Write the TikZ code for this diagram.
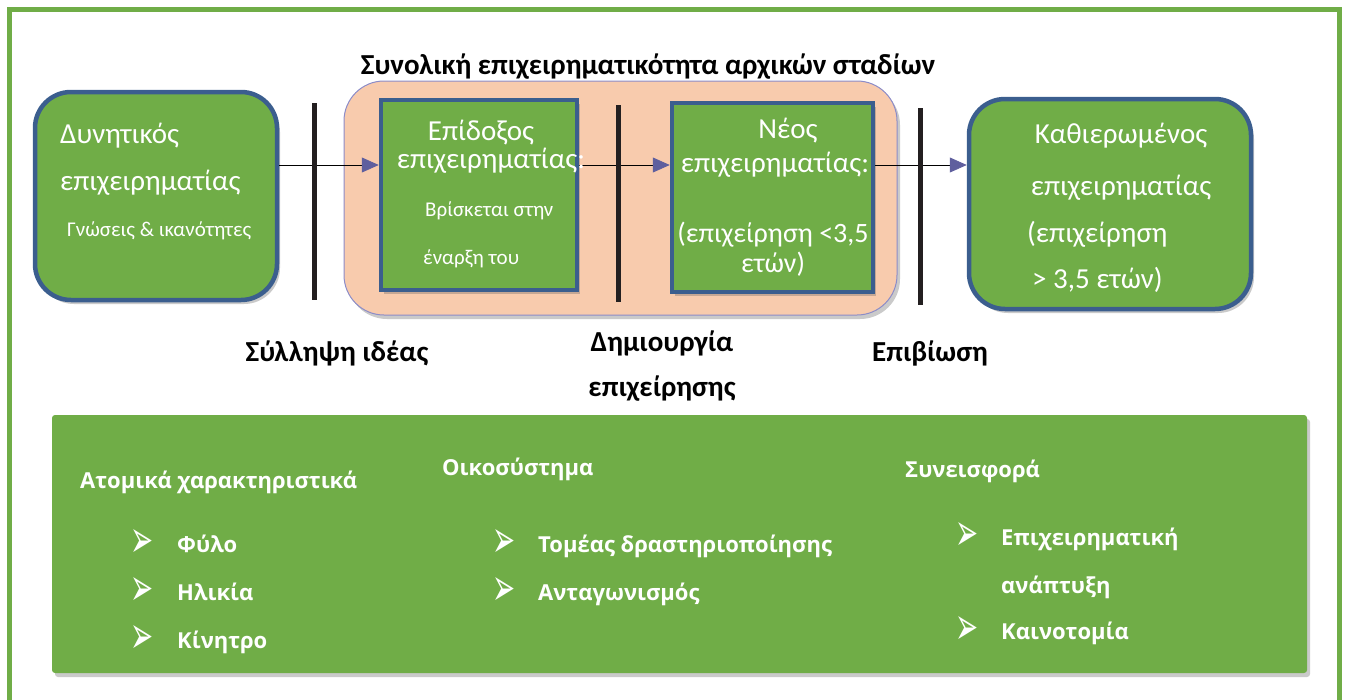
\documentclass[tikz,border=0pt]{standalone}
\usepackage{fontspec}
\setmainfont{Carlito}
\newfontfamily\osans{Open Sans}
\newfontfamily\djv{DejaVu Sans}
\usetikzlibrary{arrows.meta,shadows,calc}
\definecolor{mygreen}{HTML}{70AD47}
\definecolor{myblue}{HTML}{3B5E8E}
\definecolor{peach}{HTML}{F8CBAD}
\definecolor{peachline}{HTML}{8C8CC8}
\definecolor{tipc}{HTML}{5F5F9E}
\definecolor{barc}{HTML}{231F20}
\tikzset{
  shad/.style={drop shadow={shadow xshift=3pt,shadow yshift=-4pt,opacity=0.35,fill=black!60}},
  gbox/.style={fill=mygreen,draw=myblue,line width=4.5pt,inner sep=0pt,shad},
  barline/.style={draw=barc,line width=5pt},
  arr/.style={draw=black,line width=0.8pt,-{Triangle[length=17pt,width=15pt,color=tipc]}},
  wt/.style={text=white,inner sep=0pt,font=\fontsize{29}{33}\selectfont},
  ws/.style={text=white,inner sep=0pt,font=\fontsize{21}{25}\selectfont},
  lab/.style={inner sep=0pt,font=\bfseries\fontsize{29}{33}\selectfont},
  bt/.style={text=white,inner sep=0pt,font=\osans\bfseries\fontsize{22}{26}\selectfont},
  bul/.style={text=white,inner sep=0pt,text height=16pt,text depth=0pt,font=\djv\fontsize{30}{32}\selectfont},
}
\begin{document}
\begin{tikzpicture}[x=1pt,y=-1pt]
\useasboundingbox (0,0) rectangle (1347,699);
% outer frame
\draw[mygreen,line width=5pt] (9.5,9.5) rectangle (1339.5,720);
% peach container
\node[fill=peach,draw=peachline,line width=1pt,rounded corners=40pt,shad,minimum width=553pt,minimum height=234pt,inner sep=0pt] (cont) at (620.5,198) {};
\node[lab,anchor=base] (title) at (648,74) {Συνολική επιχειρηματικότητα αρχικών σταδίων};
% boxes
\node[gbox,rounded corners=36pt,minimum width=242pt,minimum height=208pt] (b1) at (156,196) {};
\node[gbox,minimum width=196pt,minimum height=190pt] (b2) at (479,195) {};
\node[gbox,minimum width=201pt,minimum height=189pt] (b3) at (772.5,197.5) {};
\node[gbox,rounded corners=36pt,minimum width=282pt,minimum height=210pt] (b4) at (1110,204) {};
% arrows
\coordinate (ay) at (0,165);
\draw[arr] (b1.east |- ay) -- (b2.west |- ay);
\draw[arr] (b2.east |- ay) -- (b3.west |- ay);
\draw[arr] (b3.east |- ay) -- (b4.west |- ay);
% bars
\draw[barline] (314,103) -- (314,300);
\draw[barline] (618,105) -- (618,302);
\draw[barline] (920,108) -- (920,305);
% box texts
\node[wt,anchor=base west] (t1a) at (60,143) {Δυνητικός};
\node[wt,anchor=base west] (t1b) at (60,190) {επιχειρηματίας};
\node[ws,anchor=base west] (t1c) at (67,236) {Γνώσεις \& ικανότητες};
\node[wt,anchor=base] (t2a) at (481,140) {Επίδοξος};
\node[wt,anchor=base] (t2b) at (491,168) {επιχειρηματίας:};
\node[ws,anchor=base west] (t2c) at (425,216) {Βρίσκεται στην};
\node[ws,anchor=base west] (t2d) at (423,264) {έναρξη του};
\node[wt,anchor=base] (t3a) at (788,138) {Νέος};
\node[wt,anchor=base] (t3b) at (775,172) {επιχειρηματίας:};
\node[wt,anchor=base,font=\fontsize{28}{32}\selectfont] (t3c) at (773,242) {(επιχείρηση <3,5};
\node[wt,anchor=base,font=\fontsize{28}{32}\selectfont] (t3d) at (773,272) {ετών)};
\node[wt,anchor=base] (t4a) at (1121,143) {Καθιερωμένος};
\node[wt,anchor=base] (t4b) at (1121,195) {επιχειρηματίας};
\node[wt,anchor=base west] (t4c) at (1027,242) {(επιχείρηση};
\node[wt,anchor=base west] (t4d) at (1032,288) {> 3,5 ετών)};
% stage labels
\node[lab,anchor=base] (l1) at (337,361) {Σύλληψη ιδέας};
\node[lab,anchor=base] (l2a) at (662,351) {Δημιουργία};
\node[lab,anchor=base] (l2b) at (662,396) {επιχείρησης};
\node[lab,anchor=base] (l3) at (930,361) {Επιβίωση};
% bottom panel
\node[fill=mygreen,rounded corners=3pt,shad,minimum width=1255pt,minimum height=258pt,inner sep=0pt] (panel) at (679.5,544) {};
\node[bt,anchor=base west] (h1) at (80,488) {Ατομικά χαρακτηριστικά};
\node[bt,anchor=base west] (h2) at (442,475) {Οικοσύστημα};
\node[bt,anchor=base west] (h3) at (905,477) {Συνεισφορά};
\foreach \n/\bx/\xx/\yy/\tx in {a/130/177/552/Φύλο, b/130/177/600/Ηλικία, c/130/177/648/Κίνητρο, d/492/538/552/Τομέας δραστηριοποίησης, e/492/538/600/Ανταγωνισμός, f/955/1001/545/Επιχειρηματική, g/955/1001/639/Καινοτομία}{
  \node[bul,anchor=base west] (bu\n) at (\bx,\yy+5) {\scalebox{0.92}[1.75]{➢}};
  \node[bt,anchor=base west] (it\n) at (\xx,\yy) {\tx};
}
\node[bt,anchor=base west] (itf2) at (1001,593) {ανάπτυξη};
\end{tikzpicture}
\end{document}
